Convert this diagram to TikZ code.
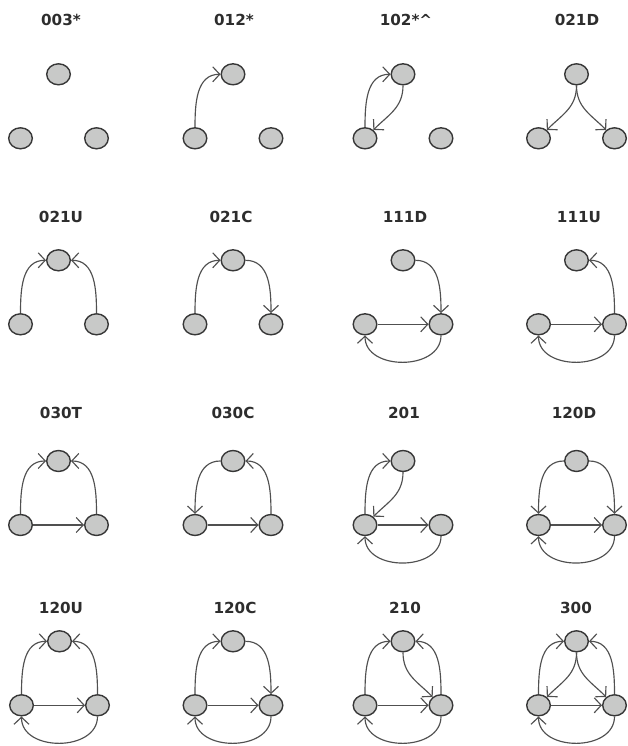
\documentclass[tikz,border=0pt]{standalone}
\usepackage{fontspec}
\newfontfamily\titlefont{DejaVu Sans}
\usepackage{tikz}
\usetikzlibrary{positioning, shapes.geometric, arrows.meta}

\definecolor{vfill}{RGB}{200,201,200}
\definecolor{vline}{RGB}{55,55,55}
\definecolor{eline}{RGB}{80,80,80}
\definecolor{tcol}{RGB}{45,45,45}

\begin{document}
\begin{tikzpicture}[
  x=1pt, y=1pt,
  node distance=64pt and 38pt, on grid,
  vert/.style ={ellipse, draw=vline, line width=1.4pt, fill=vfill,
                minimum width=23.6pt, minimum height=21pt, inner sep=0pt},
  ttl/.style  ={font=\titlefont\bfseries\fontsize{15.2}{18}\selectfont,
                text=tcol, anchor=base},
  link/.style ={-{Straight Barb[length=7pt, width=15pt]}, line width=1.15pt,
                draw=eline, looseness=1.05},
  back/.style ={link, looseness=1.2}
]
\useasboundingbox (0,0) rectangle (627,746);

% ---------- Row 1 ----------
\node[ttl] (h1) at (61,720) {003*};
\node[vert] (t1) at (58.5,671.7) {};
\node[vert, below left=of t1]  (l1) {};
\node[vert, below right=of t1] (r1) {};

\node[ttl] (h2) at (234,720) {012*};
\node[vert] (t2) at (233,671.7) {};
\node[vert, below left=of t2]  (l2) {};
\node[vert, below right=of t2] (r2) {};
\draw[link] (l2) to[out=90,in=180] (t2);

\node[ttl] (h3) at (406,720) {102*\^{}};
\node[vert] (t3) at (403,671.7) {};
\node[vert, below left=of t3]  (l3) {};
\node[vert, below right=of t3] (r3) {};
\draw[link] (l3) to[out=90,in=180] (t3);
\draw[link] (t3) to[out=-90,in=45] (l3);

\node[ttl] (h4) at (577,720) {021D};
\node[vert] (t4) at (576.5,671.7) {};
\node[vert, below left=of t4]  (l4) {};
\node[vert, below right=of t4] (r4) {};
\draw[link] (t4) to[out=-90,in=45] (l4);
\draw[link] (t4) to[out=-90,in=135] (r4);

% ---------- Row 2 ----------
\node[ttl] (h5) at (61,523.3) {021U};
\node[vert] (t5) at (58.5,485.7) {};
\node[vert, below left=of t5]  (l5) {};
\node[vert, below right=of t5] (r5) {};
\draw[link] (l5) to[out=90,in=180] (t5);
\draw[link] (r5) to[out=90,in=0] (t5);

\node[ttl] (h6) at (231,523.3) {021C};
\node[vert] (t6) at (233,485.7) {};
\node[vert, below left=of t6]  (l6) {};
\node[vert, below right=of t6] (r6) {};
\draw[link] (l6) to[out=90,in=180] (t6);
\draw[link] (t6) to[out=0,in=90] (r6);

\node[ttl] (h7) at (405,523.3) {111D};
\node[vert] (t7) at (403,485.7) {};
\node[vert, below left=of t7]  (l7) {};
\node[vert, below right=of t7] (r7) {};
\draw[link] (t7) to[out=0,in=90] (r7);
\draw[link] (l7) -- (r7);
\draw[back] (r7) to[out=-90,in=-90] (l7);

\node[ttl] (h8) at (579,523.3) {111U};
\node[vert] (t8) at (576.5,485.7) {};
\node[vert, below left=of t8]  (l8) {};
\node[vert, below right=of t8] (r8) {};
\draw[link] (r8) to[out=90,in=0] (t8);
\draw[link] (l8) -- (r8);
\draw[back] (r8) to[out=-90,in=-90] (l8);

% ---------- Row 3 ----------
\node[ttl] (h9) at (61,327) {030T};
\node[vert] (t9) at (58.5,285) {};
\node[vert, below left=of t9]  (l9) {};
\node[vert, below right=of t9] (r9) {};
\draw[link] (l9) to[out=90,in=180] (t9);
\draw[link] (r9) to[out=90,in=0] (t9);
\draw[link] (l9) -- (r9);

\node[ttl] (h10) at (233,327) {030C};
\node[vert] (t10) at (233,285) {};
\node[vert, below left=of t10]  (l10) {};
\node[vert, below right=of t10] (r10) {};
\draw[link] (t10) to[out=180,in=90] (l10);
\draw[link] (l10) -- (r10);
\draw[link] (r10) to[out=90,in=0] (t10);

\node[ttl] (h11) at (404,327) {201};
\node[vert] (t11) at (403,285) {};
\node[vert, below left=of t11]  (l11) {};
\node[vert, below right=of t11] (r11) {};
\draw[link] (l11) to[out=90,in=180] (t11);
\draw[link] (t11) to[out=-90,in=45] (l11);
\draw[link] (l11) -- (r11);
\draw[back] (r11) to[out=-90,in=-90] (l11);

\node[ttl] (h12) at (574,327) {120D};
\node[vert] (t12) at (576.5,285) {};
\node[vert, below left=of t12]  (l12) {};
\node[vert, below right=of t12] (r12) {};
\draw[link] (t12) to[out=180,in=90] (l12);
\draw[link] (t12) to[out=0,in=90] (r12);
\draw[link] (l12) -- (r12);
\draw[back] (r12) to[out=-90,in=-90] (l12);

% ---------- Row 4 ----------
\node[ttl] (h13) at (61,132) {120U};
\node[vert] (t13) at (59.5,104.7) {};
\node[vert, below left=of t13]  (l13) {};
\node[vert, below right=of t13] (r13) {};
\draw[link] (l13) to[out=90,in=180] (t13);
\draw[link] (r13) to[out=90,in=0] (t13);
\draw[link] (l13) -- (r13);
\draw[back] (r13) to[out=-90,in=-90] (l13);

\node[ttl] (h14) at (235,132) {120C};
\node[vert] (t14) at (233,104.7) {};
\node[vert, below left=of t14]  (l14) {};
\node[vert, below right=of t14] (r14) {};
\draw[link] (l14) to[out=90,in=180] (t14);
\draw[link] (t14) to[out=0,in=90] (r14);
\draw[link] (l14) -- (r14);
\draw[back] (r14) to[out=-90,in=-90] (l14);

\node[ttl] (h15) at (405,132) {210};
\node[vert] (t15) at (403,104.7) {};
\node[vert, below left=of t15]  (l15) {};
\node[vert, below right=of t15] (r15) {};
\draw[link] (l15) to[out=90,in=180] (t15);
\draw[link] (r15) to[out=90,in=0] (t15);
\draw[link] (t15) to[out=-90,in=135] (r15);
\draw[link] (l15) -- (r15);
\draw[back] (r15) to[out=-90,in=-90] (l15);

\node[ttl] (h16) at (576,132) {300};
\node[vert] (t16) at (576.5,104.7) {};
\node[vert, below left=of t16]  (l16) {};
\node[vert, below right=of t16] (r16) {};
\draw[link] (l16) to[out=90,in=180] (t16);
\draw[link] (r16) to[out=90,in=0] (t16);
\draw[link] (t16) to[out=-90,in=45] (l16);
\draw[link] (t16) to[out=-90,in=135] (r16);
\draw[link] (l16) -- (r16);
\draw[back] (r16) to[out=-90,in=-90] (l16);

\end{tikzpicture}
\end{document}
